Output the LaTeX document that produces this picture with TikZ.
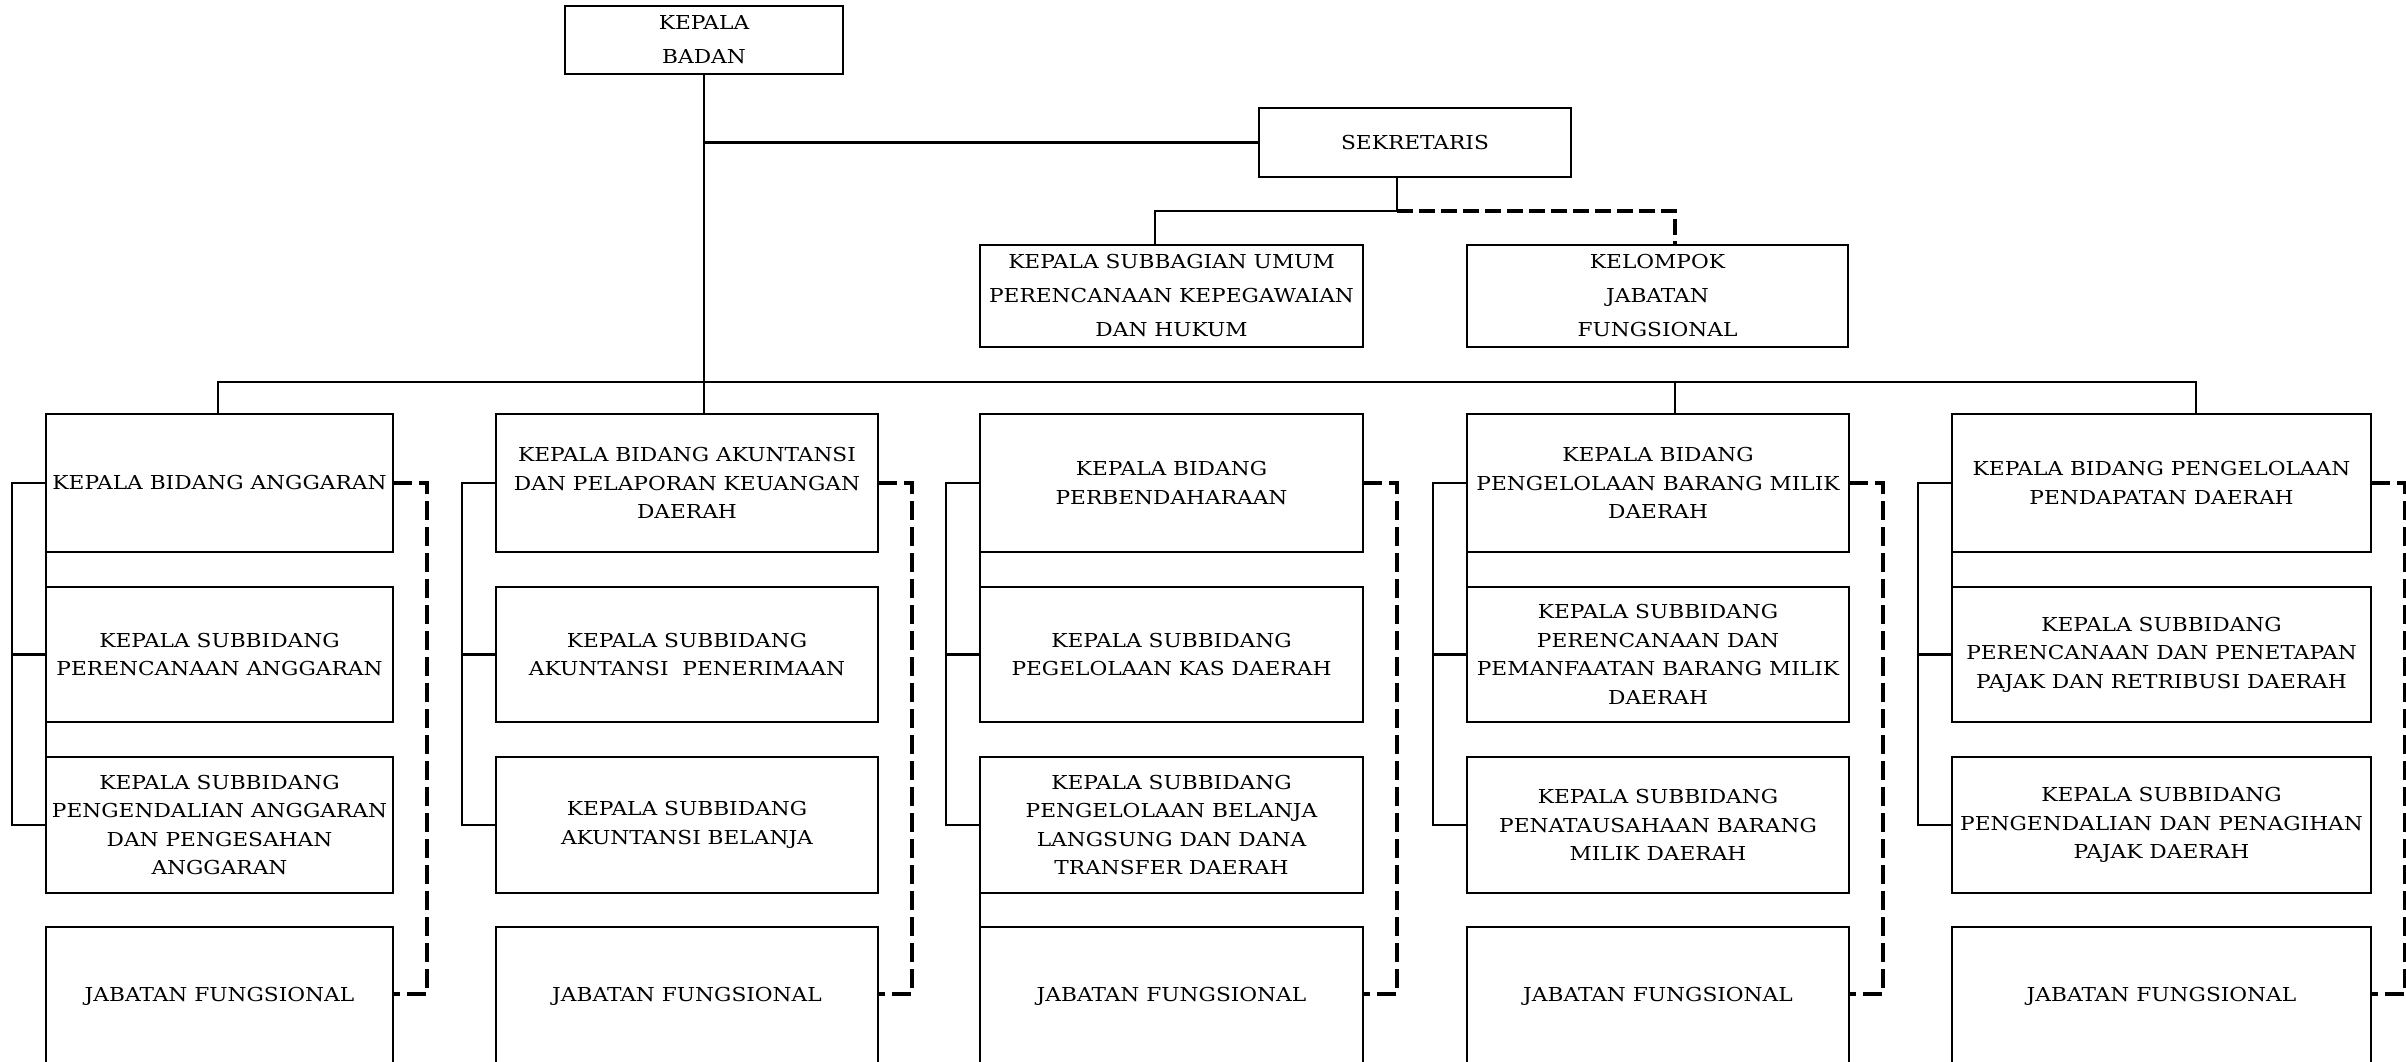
\documentclass[tikz,border=0pt]{standalone}
\usepackage{fontspec}
\setmainfont[FakeStretch=1.13]{DejaVu Serif}
\usetikzlibrary{calc}

\tikzset{
  unit/.style={draw, line width=2.8pt, inner sep=0pt, outer sep=0pt, align=center, font=\fontsize{19.2}{28.5}\selectfont},
  topbox/.style={unit, font=\fontsize{19.2}{34}\selectfont},
  w1/.style={minimum width=347pt}, w2/.style={minimum width=382pt},
  w3/.style={minimum width=383pt}, w4/.style={minimum width=382pt},
  w5/.style={minimum width=419pt},
  rowa/.style={unit, minimum height=138pt},
  rowb/.style={unit, minimum height=135pt},
  rowc/.style={unit, minimum height=136pt},
  rowd/.style={unit, anchor=base, text height=74pt, text depth=75pt, minimum height=0pt},
  link/.style={line width=2.8pt},
  dashlink/.style={line width=4.6pt, dash pattern=on 19pt off 7pt},
  secdash/.style={line width=4pt, dash pattern=on 16pt off 6pt},
}

\begin{document}
\begin{tikzpicture}[x=1pt, y=-1pt]
\useasboundingbox (0,0) rectangle (2406,1062);

% top level
\node[topbox, minimum width=278pt, minimum height=68pt] (kb) at (704,40) {KEPALA\\BADAN};
\node[topbox, minimum width=312pt, minimum height=69pt] (sek) at (1415,142.5) {SEKRETARIS};
\node[topbox, minimum width=383pt, minimum height=102pt] (sub) at (1171.5,296) {KEPALA SUBBAGIAN UMUM\\PERENCANAAN KEPEGAWAIAN\\DAN HUKUM};
\node[topbox, minimum width=381pt, minimum height=102pt] (kjf) at (1657.5,296) {KELOMPOK\\JABATAN\\FUNGSIONAL};

% column 1
\node[rowa, w1] (c1r1) at (219.5,483) {KEPALA BIDANG ANGGARAN};
\node[rowb, w1] (c1r2) at (219.5,654.5) {KEPALA SUBBIDANG\\PERENCANAAN ANGGARAN};
\node[rowc, w1] (c1r3) at (219.5,825) {KEPALA SUBBIDANG\\PENGENDALIAN ANGGARAN\\DAN PENGESAHAN\\ANGGARAN};
\node[rowd, w1] (c1r4) at (219.5,1001) {JABATAN FUNGSIONAL};

% column 2
\node[rowa, w2] (c2r1) at (687,483) {KEPALA BIDANG AKUNTANSI\\DAN PELAPORAN KEUANGAN\\DAERAH};
\node[rowb, w2] (c2r2) at (687,654.5) {KEPALA SUBBIDANG\\AKUNTANSI\ \ PENERIMAAN};
\node[rowc, w2] (c2r3) at (687,825) {KEPALA SUBBIDANG\\AKUNTANSI BELANJA};
\node[rowd, w2] (c2r4) at (687,1001) {JABATAN FUNGSIONAL};

% column 3
\node[rowa, w3] (c3r1) at (1171.5,483) {KEPALA BIDANG\\PERBENDAHARAAN};
\node[rowb, w3] (c3r2) at (1171.5,654.5) {KEPALA SUBBIDANG\\PEGELOLAAN KAS DAERAH};
\node[rowc, w3] (c3r3) at (1171.5,825) {KEPALA SUBBIDANG\\PENGELOLAAN BELANJA\\LANGSUNG DAN DANA\\TRANSFER DAERAH};
\node[rowd, w3] (c3r4) at (1171.5,1001) {JABATAN FUNGSIONAL};

% column 4
\node[rowa, w4] (c4r1) at (1658,483) {KEPALA BIDANG\\PENGELOLAAN BARANG MILIK\\DAERAH};
\node[rowb, w4] (c4r2) at (1658,654.5) {KEPALA SUBBIDANG\\PERENCANAAN DAN\\PEMANFAATAN BARANG MILIK\\DAERAH};
\node[rowc, w4] (c4r3) at (1658,825) {KEPALA SUBBIDANG\\PENATAUSAHAAN BARANG\\MILIK DAERAH};
\node[rowd, w4] (c4r4) at (1658,1001) {JABATAN FUNGSIONAL};

% column 5
\node[rowa, w5] (c5r1) at (2161.5,483) {KEPALA BIDANG PENGELOLAAN\\PENDAPATAN DAERAH};
\node[rowb, w5] (c5r2) at (2161.5,654.5) {KEPALA SUBBIDANG\\PERENCANAAN DAN PENETAPAN\\PAJAK DAN RETRIBUSI DAERAH};
\node[rowc, w5] (c5r3) at (2161.5,825) {KEPALA SUBBIDANG\\PENGENDALIAN DAN PENAGIHAN\\PAJAK DAERAH};
\node[rowd, w5] (c5r4) at (2161.5,1001) {JABATAN FUNGSIONAL};

% junction points
\coordinate (sekj) at (1397,211);
\coordinate (subj) at (1155,211);
\coordinate (kjfj) at (1675,211);
\coordinate (busl) at (218,382);
\coordinate (busd) at (1675,382);
\coordinate (busr) at (2196,382);

% head and secretariat
\draw[link] (kb.south) -- (kb.south |- c2r1.north);
\draw[link] (kb.south |- sek.west) -- (sek.west);
\draw[link] (sekj |- sek.south) -- (sekj) -- (subj) -- (subj |- sub.north);
\draw[secdash] (sekj) -- (kjfj) -- (kjfj |- kjf.north);

% main bus to the divisions
\draw[link] (busl |- c1r1.north) -- (busl) -- (busr) -- (busr |- c5r1.north);
\draw[link] (busd) -- (busd |- c4r1.north);

% left brackets to the subdivisions, dashed brackets to the functional posts
\foreach \c in {1,...,5}{
  \draw[link] (c\c r1.west) -- ++(-34,0) |- (c\c r3.west);
  \draw[link] (c\c r2.west) -- ++(-34,0);
  \draw[dashlink] (c\c r1.east) -- ++(34,0) |- ($(c\c r4.base east)+(0,-7)$);
}

% box edge joins between stacked boxes
\draw[link] (c1r1.south west) -- (c1r2.north west);
\draw[link] (c1r2.south west) -- (c1r3.north west);
\draw[link] (c3r1.south west) -- (c3r2.north west);
\draw[link] (c3r3.south west) -- (c3r4.north west);
\draw[link] (c4r1.south west) -- (c4r2.north west);
\draw[link] (c5r1.south west) -- (c5r2.north west);
\end{tikzpicture}
\end{document}
